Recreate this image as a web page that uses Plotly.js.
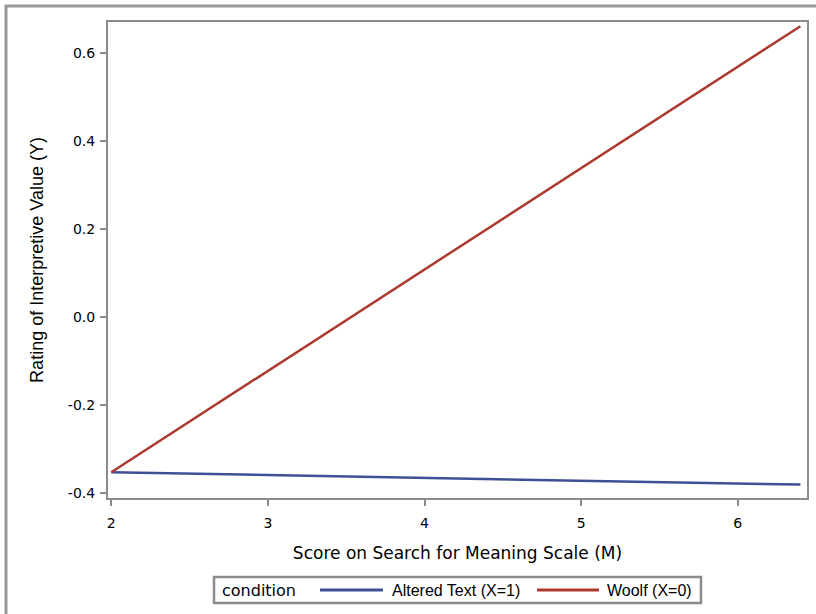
<!DOCTYPE html>
<html>
<head>
<meta charset="utf-8">
<script src="https://cdn.plot.ly/plotly-3.0.1.min.js"></script>
<style>html,body{margin:0;padding:0;background:#fff;}#chart{width:816px;height:614px;}</style>
</head>
<body>
<div id="chart"></div>
<script>
// Data
const xAltered = [2, 6.4];
const yAltered = [-0.353, -0.381];
const xWoolf = [2, 6.4];
const yWoolf = [-0.353, 0.66];
const seriesNames = ['Altered Text (X=1)', 'Woolf (X=0)'];
const legendTitle = 'condition';
const xTicks = [2, 3, 4, 5, 6];
const yTicks = [-0.4, -0.2, 0.0, 0.2, 0.4, 0.6];
const yTickText = ['-0.4', '-0.2', '0.0', '0.2', '0.4', '0.6'];
const seriesColors = ['#3f4f96', '#ab3a2f'];

const gray = '#8c8c8c';
const W = 816, H = 614, ML = 108, MR = 9, MT = 22, MB = 116;
const PW = W - ML - MR, PH = H - MT - MB;
const px = v => (v - ML) / PW;
const py = v => (H - MB - v) / PH;

const traces = [
  {x: xAltered, y: yAltered, name: seriesNames[0], mode: 'lines', type: 'scatter',
   line: {color: seriesColors[0], width: 2.5}},
  {x: xWoolf, y: yWoolf, name: seriesNames[1], mode: 'lines', type: 'scatter',
   line: {color: seriesColors[1], width: 2.5}}
];

const legY = 590;
const layout = {
  width: W, height: H,
  margin: {l: ML, r: MR, t: MT, b: MB, pad: 0},
  paper_bgcolor: '#fff', plot_bgcolor: '#fff',
  showlegend: false,
  xaxis: {
    range: [1.979, 6.442], tickvals: xTicks, ticktext: xTicks.map(String),
    showgrid: false, zeroline: false, showline: true, mirror: true,
    linecolor: gray, linewidth: 2, ticks: 'outside', ticklen: 6, tickwidth: 2, tickcolor: gray,
    ticklabelstandoff: 5,
    tickfont: {family: 'DejaVu Sans', size: 14, color: '#000'},
    title: {text: 'Score on Search for Meaning Scale (M)', standoff: 17,
            font: {family: 'DejaVu Sans', size: 17, color: '#000'}}
  },
  yaxis: {
    range: [-0.4114, 0.6695], tickvals: yTicks, ticktext: yTickText,
    showgrid: false, zeroline: false, showline: true, mirror: true,
    linecolor: gray, linewidth: 2, ticks: 'outside', ticklen: 6, tickwidth: 2, tickcolor: gray,
    ticklabelstandoff: 2,
    tickfont: {family: 'DejaVu Sans', size: 14, color: '#000'},
    title: {text: 'Rating of Interpretive Value (Y)', standoff: 20,
            font: {family: 'Liberation Sans', size: 18, color: '#000'}}
  },
  shapes: [
    {type: 'rect', xref: 'paper', yref: 'paper', x0: px(6), x1: px(900), y0: py(700), y1: py(6),
     line: {color: '#999', width: 3}, fillcolor: 'rgba(0,0,0,0)', layer: 'below'},
    {type: 'rect', xref: 'paper', yref: 'paper', x0: px(214), x1: px(701), y0: py(603), y1: py(577),
     line: {color: gray, width: 2.5}, fillcolor: '#fff'},
    {type: 'line', xref: 'paper', yref: 'paper', x0: px(320), x1: px(383), y0: py(legY), y1: py(legY),
     line: {color: seriesColors[0], width: 3}},
    {type: 'line', xref: 'paper', yref: 'paper', x0: px(537), x1: px(599), y0: py(legY), y1: py(legY),
     line: {color: seriesColors[1], width: 3}}
  ],
  annotations: [
    {xref: 'paper', yref: 'paper', x: px(220), y: py(legY), xanchor: 'left', yanchor: 'middle',
     showarrow: false, text: legendTitle, font: {family: 'DejaVu Sans', size: 16, color: '#000'}},
    {xref: 'paper', yref: 'paper', x: px(390), y: py(legY), xanchor: 'left', yanchor: 'middle',
     showarrow: false, text: seriesNames[0], font: {family: 'Liberation Sans', size: 16, color: '#000'}},
    {xref: 'paper', yref: 'paper', x: px(605), y: py(legY), xanchor: 'left', yanchor: 'middle',
     showarrow: false, text: seriesNames[1], font: {family: 'Liberation Sans', size: 16, color: '#000'}}
  ]
};

Plotly.newPlot('chart', traces, layout, {displayModeBar: false, staticPlot: true});
</script>
</body>
</html>
